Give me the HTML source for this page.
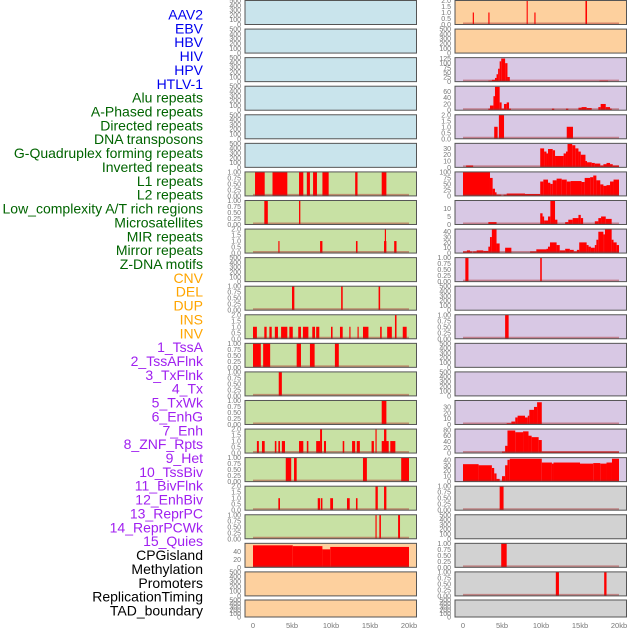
<!DOCTYPE html>
<html><head><meta charset="utf-8">
<style>
html,body{margin:0;padding:0;background:#fff;}
svg{display:block;font-family:"Liberation Sans",sans-serif;}
</style></head>
<body>
<svg id="chart" width="630" height="630" viewBox="0 0 630 630"></svg>
<script>
// Row labels
const labelTexts = ["AAV2","EBV","HBV","HIV","HPV","HTLV-1","Alu repeats","A-Phased repeats","Directed repeats","DNA transposons","G-Quadruplex forming repeats","Inverted repeats","L1 repeats","L2 repeats","Low_complexity A/T rich regions","Microsatellites","MIR repeats","Mirror repeats","Z-DNA motifs","CNV","DEL","DUP","INS","INV","1_TssA","2_TssAFlnk","3_TxFlnk","4_Tx","5_TxWk","6_EnhG","7_Enh","8_ZNF_Rpts","9_Het","10_TssBiv","11_BivFlnk","12_EnhBiv","13_ReprPC","14_ReprPCWk","15_Quies","CPGisland","Methylation","Promoters","ReplicationTiming","TAD_boundary"];
const labelGroups = [6,13,5,15,5];
const groupColors = ["#0000ee","#006400","#ffa500","#a020f0","#000000"];
const xTickValues = [0,5,10,15,20];
const xTickLabels = ["0","5kb","10kb","15kb","20kb"];

// Segment data: [startKb, endKb, value]
const segL6 = [[0.26,1.5,1],[2.5,4.4,1],[5.9,6.45,1],[6.9,7.3,1],[7.7,8.2,1],[8.9,9.7,1],[13.1,13.4,1],[16.5,17.1,1]];
const segL7 = [[1.45,1.9,1],[5.9,6.07,1]];
const segL8 = [[3.25,3.4,1],[8.6,8.9,1],[13.2,13.4,1],[16.8,17.1,1],[16.9,17.05,2],[18.1,18.4,1]];
const segL10 = [[5.0,5.3,1],[11.3,11.5,1],[16.1,16.3,1]];
const segL11 = [[0,0.5,1],[1.45,1.75,1],[2.1,2.4,1],[2.8,3.2,1],[3.6,4.4,1],[4.66,5.1,1],[5.8,6.15,1],[6.4,7.1,1],[7.6,7.95,1],[8.1,8.5,1],[10.0,10.2,1],[11.15,11.5,1],[12.35,12.5,1],[13.4,13.55,1],[14.1,14.8,1],[16.3,16.5,1],[17.2,17.8,1],[18.2,18.4,2],[19.2,19.7,1]];
const segL12 = [[0,1.0,1],[1.3,2.2,1],[5.6,6.15,1],[7.3,7.9,1],[10.5,11.0,1]];
const segL13 = [[3.3,3.7,1]];
const segL14 = [[16.5,17.1,1]];
const segL15 = [[0.5,0.75,1],[1.15,1.5,1],[2.8,3.0,1],[3.25,3.46,1],[3.7,4.1,1],[5.9,6.45,1],[6.9,7.1,1],[8.1,8.6,1],[8.6,8.85,2],[9.1,9.36,1],[11.5,11.7,1],[12.7,13.1,1],[13.3,13.7,1],[15.2,15.5,1],[15.7,15.85,2],[16.5,17.4,1],[16.8,17.1,2],[17.6,18.25,1]];
const segL16 = [[4.2,4.9,1],[5.26,5.6,1],[14.1,14.6,1],[19.0,20,1]];
const segL17 = [[3.25,3.46,1],[8.3,8.6,1],[8.7,8.9,1],[9.9,10.26,1],[12.05,12.4,1],[13.2,13.4,1],[15.7,16.0,2],[16.8,17.1,2]];
const segL18 = [[15.7,15.85,1],[16.2,16.4,1],[18.6,18.85,1]];
const segL19 = [[0,5.1,55],[5.1,8.9,53],[8.9,9.9,45],[9.9,20,51]];

const segR0 = [[1.25,1.4,1],[3.25,3.4,1],[8.16,8.3,2],[9.15,9.3,1],[15.7,15.9,2]];
const segR2 = [[3.25,3.7,5],[3.7,4.1,10],[4.1,4.3,20],[4.3,4.5,40],[4.5,4.7,70],[4.7,4.9,110],[4.9,5.4,125],[5.4,5.7,100],[5.7,6.0,25],[17.5,18.6,5]];
const segR3 = [[3.25,3.46,5],[3.46,3.9,15],[3.9,4.1,45],[4.1,4.7,75],[4.7,4.95,25],[4.95,5.26,5],[5.26,5.6,20],[5.6,5.9,25],[5.9,6.15,5],[11.4,11.7,5],[13.2,13.5,5],[14.8,15.2,8],[15.2,15.85,10],[15.85,16.5,7],[17.35,17.65,10],[17.65,18.3,20],[18.3,18.85,10],[18.85,19.06,5]];
const segR4 = [[4.0,4.44,1],[4.6,5.26,2],[13.3,14.1,1]];
const segR5 = [[0.4,1.3,3],[9.9,10.4,30],[10.4,10.7,25],[10.7,10.9,22],[10.9,11.5,29],[11.5,11.8,27],[11.8,12.9,18],[12.9,13.2,22],[13.2,13.4,25],[13.4,14.0,37],[14.0,14.4,35],[14.4,14.8,30],[14.8,15.1,25],[15.1,15.7,20],[15.7,15.9,10],[15.9,16.5,8],[16.5,16.9,7],[16.9,17.6,6],[17.6,18.0,3],[18.0,18.4,5],[18.4,18.85,7],[18.85,19.2,5],[19.2,20,3]];
const segR6 = [[0,3.46,100],[3.46,3.8,75],[3.8,4.1,30],[4.1,4.3,15],[4.3,4.9,5],[4.9,5.2,1],[5.2,5.6,5],[5.6,7.95,10],[7.95,9.9,8],[9.9,10.3,60],[10.3,10.9,68],[10.9,11.2,55],[11.2,11.5,50],[11.5,12.0,65],[12.0,12.65,72],[12.65,13.3,68],[13.3,13.8,60],[13.8,15.2,62],[15.2,15.6,58],[15.6,16.3,75],[16.3,16.7,78],[16.7,17.1,85],[17.1,17.6,65],[17.6,18.0,48],[18.0,18.4,42],[18.4,18.85,45],[18.85,19.3,60],[19.3,20,68]];
const segR7 = [[3.25,4.3,1.5],[9.9,10.2,7],[10.2,10.4,5],[10.4,10.9,2.5],[10.9,11.2,5],[11.2,11.8,15],[11.8,12.1,3],[13.1,13.5,1.5],[13.5,14.06,3],[14.06,14.8,4],[14.8,15.1,6],[15.1,15.4,4],[16.9,17.35,2],[17.35,17.7,4],[17.7,18.3,5],[18.3,19.06,3.5]];
const segR8 = [[0,0.5,3],[0.5,0.9,5],[0.9,1.2,3],[1.3,1.75,3],[1.75,2.6,5],[2.6,3.25,4],[3.25,3.46,12],[3.46,3.7,30],[3.7,4.3,45],[4.3,4.7,18],[5.4,6.2,10],[8.6,9.4,3],[9.4,10.7,7],[10.7,10.9,8],[10.9,11.15,12],[11.15,12.0,20],[12.0,12.4,15],[12.4,13.1,5],[13.1,13.7,8],[13.7,14.2,6],[14.2,14.6,3],[14.6,14.9,6],[14.9,15.85,20],[15.85,16.1,15],[16.1,16.4,12],[16.4,16.9,10],[16.9,17.1,15],[17.1,17.35,25],[17.35,18.0,40],[18.0,18.2,35],[18.2,19.06,45],[19.06,19.3,25],[19.3,19.7,20],[19.7,20,15]];
const segR9 = [[0.3,0.7,1],[9.9,10.1,1]];
const segR11 = [[5.4,5.85,1]];
const segR14 = [[5.6,6.2,2],[6.2,6.7,5],[6.7,7.0,12],[7.0,7.95,15],[7.95,8.3,12],[8.3,8.5,15],[8.5,9.1,25],[9.1,9.5,30],[9.5,10.1,38]];
const segR15 = [[5.0,5.4,5],[5.4,5.7,25],[5.7,6.7,78],[6.7,7.7,72],[7.7,8.4,75],[8.4,8.8,60],[8.8,9.7,55],[9.7,10.1,45],[10.1,20,5]];
const segR16 = [[0,2.0,32],[2.0,3.7,30],[3.7,4.0,25],[4.0,4.3,15],[4.3,4.7,5],[5.0,5.4,10],[5.4,5.7,30],[5.7,6.0,40],[6.0,10.1,42],[10.1,11.4,35],[11.4,11.6,33],[11.6,15.0,35],[15.0,16.7,33],[16.7,17.6,34],[17.6,18.4,33],[18.4,19.1,35],[19.1,20,42]];
const segR17 = [[4.7,5.2,1]];
const segR19 = [[4.9,5.6,1]];
const segR20 = [[11.9,12.3,1],[18.1,18.4,1]];

// Y max per panel row
const leftYMax = [500,500,500,500,500,500,1,1,2,500,1,2,1,1,1,2,1,2,1,60,500,500];
const rightYMax = [2,500,130,77,2,38,100,15,45,1,500,1,500,500,41,83,44,1,500,1,1,500];
const leftSegs = [null,null,null,null,null,null,segL6,segL7,segL8,null,segL10,segL11,segL12,segL13,segL14,segL15,segL16,segL17,segL18,segL19,null,null];
const rightSegs = [segR0,null,segR2,segR3,segR4,segR5,segR6,segR7,segR8,segR9,null,segR11,null,null,segR14,segR15,segR16,segR17,null,segR19,segR20,null];
const customTicks = {60:[0,20,40],130:[0,25,50,75,100,125],77:[0,20,40,60],38:[0,10,20,30],100:[0,25,50,75,100],15:[0,5,10],45:[0,10,20,30,40],41:[0,10,20,30],83:[0,20,40,60,80],44:[0,10,20,30,40]};

const NS = "http://www.w3.org/2000/svg";
const svg = document.getElementById("chart");
function mk(tag, attrs, parent){
  const e = document.createElementNS(NS, tag);
  for (const k in attrs) e.setAttribute(k, attrs[k]);
  (parent||svg).appendChild(e);
  return e;
}

// labels
let li = 0;
labelGroups.forEach((n, g) => {
  for (let j = 0; j < n; j++) {
    const t = mk("text", {x:203, y:15 + li*13.86 + 4.5, "text-anchor":"end", "font-size":14, fill:groupColors[g]});
    t.textContent = labelTexts[li];
    
    
    li++;
  }
});

function rowTop(i){ return i < 21 ? 0.5 + i*28.57 : 600; }
function rowH(i){ return i < 21 ? 24 : 17; }
const leftBg = i => i < 6 ? "#c9e4ec" : (i < 19 ? "#c8e1a4" : "#fdd09e");
const rightBg = i => i < 2 ? "#fdd09e" : (i < 17 ? "#d8c8e4" : "#d2d2d2");

function ticksFor(ymax){
  if (ymax === 1) return {v:[0,0.25,0.5,0.75,1], d:2};
  if (ymax === 2) return {v:[0,0.5,1,1.5,2], d:1};
  if (ymax === 500) return {v:[0,100,200,300,400,500], d:0};
  return {v:customTicks[ymax], d:0};
}

function drawPanel(col, i, ymax, segs, bg){
  const px = col === 0 ? 245 : 455;
  const pw = 171.5;
  const x0 = col === 0 ? 253 : 463;
  const xs = kb => x0 + kb*7.8;
  const top = rowTop(i), h = rowH(i);
  const ys = v => top + h - (v/ymax)*h;
  const g = mk("g", {});
  
  
  mk("rect", {x:px, y:top, width:pw, height:h, fill:bg}, g);
  if (segs) {
    segs.forEach(s => {
      const r = mk("rect", {x:xs(s[0]), y:ys(s[2]), width:Math.max(0.8, xs(s[1])-xs(s[0])), height:top+h-ys(s[2]), fill:"#ff0000"}, g);
      
      
    });
    const bl = mk("line", {x1:xs(0), x2:xs(20), y1:top+h-1, y2:top+h-1, stroke:"rgba(170,40,40,0.45)", "stroke-width":2}, g);
    
    
  }
  mk("rect", {x:px, y:top, width:pw, height:h, fill:"none", stroke:"#555", "stroke-width":1}, g);
  const tk = ticksFor(ymax);
  tk.v.forEach(v => {
    const t = mk("text", {x:px-4, y:ys(v)+2.5, "text-anchor":"end", "font-size":7, fill:"#777"}, g);
    t.textContent = v.toFixed(tk.d);
    
    
  });
}
for (let i = 0; i < 22; i++) {
  drawPanel(0, i, leftYMax[i], leftSegs[i], leftBg(i));
  drawPanel(1, i, rightYMax[i], rightSegs[i], rightBg(i));
}
[0,1].forEach(col => {
  const x0 = col === 0 ? 253 : 463;
  xTickValues.forEach((v, k) => {
    const t = mk("text", {x:x0 + v*7.8, y:628, "text-anchor":"middle", "font-size":7.5, fill:"#777"});
    t.textContent = xTickLabels[k];
    
    
  });
});
</script>
</body></html>
